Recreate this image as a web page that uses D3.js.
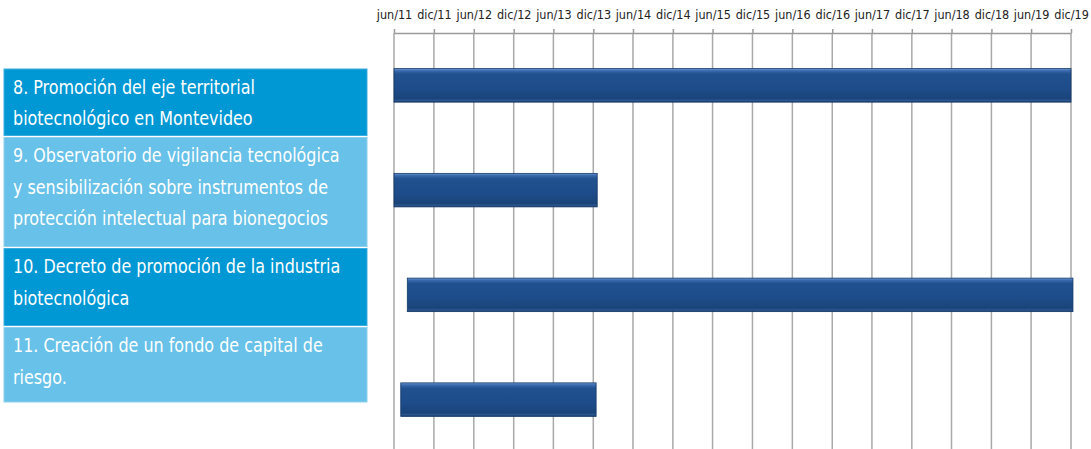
<!DOCTYPE html>
<html>
<head>
<meta charset="utf-8">
<script src="https://cdn.jsdelivr.net/npm/d3@7"></script>
<style>
  body { margin: 0; background: #fff; }
  svg { display: block; }
</style>
</head>
<body>
<svg id="chart"></svg>
<script>
// tasks, as written in the left boxes (one entry per line)
const tasks = [
  ["8. Promoción del eje territorial", "biotecnológico en Montevideo"],
  ["9. Observatorio de vigilancia tecnológica", "y sensibilización sobre instrumentos de", "protección intelectual para bionegocios"],
  ["10. Decreto de promoción de la industria", "biotecnológica"],
  ["11. Creación de un fondo de capital de", "riesgo."]
];
const startDates = ["2011-06-01", "2011-06-01", "2011-08-01", "2011-07-02"];
const endDates   = ["2019-12-01", "2013-12-19", "2019-12-10", "2013-12-14"];
const tickLabels = ["jun/11", "dic/11", "jun/12", "dic/12", "jun/13", "dic/13", "jun/14", "dic/14", "jun/15",
                    "dic/15", "jun/16", "dic/16", "jun/17", "dic/17", "jun/18", "dic/18", "jun/19", "dic/19"];

const W = 1091, H = 449;
const svg = d3.select("#chart").attr("width", W).attr("height", H);

const es = d3.timeFormatLocale({
  dateTime: "%A, %e de %B de %Y, %X", date: "%d/%m/%Y", time: "%H:%M:%S",
  periods: ["AM", "PM"],
  days: ["domingo", "lunes", "martes", "miércoles", "jueves", "viernes", "sábado"],
  shortDays: ["dom", "lun", "mar", "mié", "jue", "vie", "sáb"],
  months: ["enero", "febrero", "marzo", "abril", "mayo", "junio", "julio", "agosto", "septiembre", "octubre", "noviembre", "diciembre"],
  shortMonths: ["ene", "feb", "mar", "abr", "may", "jun", "jul", "ago", "sep", "oct", "nov", "dic"]
});
const parseTick = es.parse("%b/%y");
const fmtTick = es.format("%b/%y");
const parseDay = d3.timeParse("%Y-%m-%d");
const ticks = tickLabels.map(parseTick);

const x = d3.scaleTime()
  .domain([ticks[0], ticks[ticks.length - 1]])
  .range([394, 1071]);

const y = d3.scaleBand()
  .domain(d3.range(tasks.length))
  .range([33, 452])
  .paddingInner(0.68)
  .paddingOuter(0.34);

// gradient for the bars
const defs = svg.append("defs");
const grad = defs.append("linearGradient").attr("id", "barGrad")
  .attr("x1", 0).attr("y1", 0).attr("x2", 0).attr("y2", 1);
[[0, "#6f9ad4"], [0.06, "#3c6bb0"], [0.16, "#22518f"], [0.6, "#1e4c8a"], [0.9, "#1a4479"], [0.95, "#2c5790"], [1, "#163a68"]]
  .forEach(([o, c]) => grad.append("stop").attr("offset", o).attr("stop-color", c));

// grid lines
svg.append("g").selectAll("line")
  .data(ticks)
  .join("line")
  .attr("x1", d => x(d)).attr("x2", d => x(d))
  .attr("y1", 33).attr("y2", H)
  .attr("stroke", "#a9a9a9")
  .attr("stroke-width", 1.5);

// top axis
const axis = svg.append("g")
  .attr("transform", "translate(0,33)")
  .call(d3.axisTop(x).tickValues(ticks).tickFormat(fmtTick).tickSize(4).tickSizeOuter(0).tickPadding(10));
axis.select(".domain").attr("stroke", "#9a9a9a").attr("stroke-width", 1.5);
axis.selectAll(".tick line").attr("stroke", "#9a9a9a").attr("stroke-width", 1.5);
axis.selectAll(".tick text")
  .attr("fill", "#222")
  .style("font-family", "'DejaVu Sans Condensed', 'DejaVu Sans', sans-serif")
  .style("font-size", "12.5px");

// bars
svg.append("g").selectAll("rect")
  .data(tasks.map((t, i) => ({ i, s: parseDay(startDates[i]), e: parseDay(endDates[i]) })))
  .join("rect")
  .attr("x", d => x(d.s))
  .attr("y", d => y(d.i))
  .attr("width", d => x(d.e) - x(d.s))
  .attr("height", y.bandwidth())
  .attr("fill", "url(#barGrad)")
  .attr("stroke", "#143868")
  .attr("stroke-width", 0.8);

// label boxes on the left
const boxEdges = [69, 137.5, 248.5, 327.5, 404];
const boxFill = ["#0098d4", "#67c1e8"];
const boxes = svg.append("g").selectAll("g")
  .data(tasks)
  .join("g")
  .attr("transform", (d, i) => `translate(4,${boxEdges[i]})`);
boxes.append("rect")
  .attr("width", 363)
  .attr("height", (d, i) => boxEdges[i + 1] - boxEdges[i] - 2)
  .attr("fill", (d, i) => boxFill[i % 2])
  .attr("stroke", (d, i) => i % 2 ? "#8fd0ee" : "#3aaee0")
  .attr("stroke-width", 1);
boxes.append("text")
  .attr("fill", "#fff")
  .attr("transform", "translate(9,0) scale(0.91,1)")
  .style("font-family", "'DejaVu Sans Condensed', sans-serif")
  .style("font-size", "19.5px")
  .selectAll("tspan")
  .data(d => d)
  .join("tspan")
  .attr("x", 0)
  .attr("y", (d, j) => 25 + j * 31.5)
  .text(d => d);
</script>
</body>
</html>
